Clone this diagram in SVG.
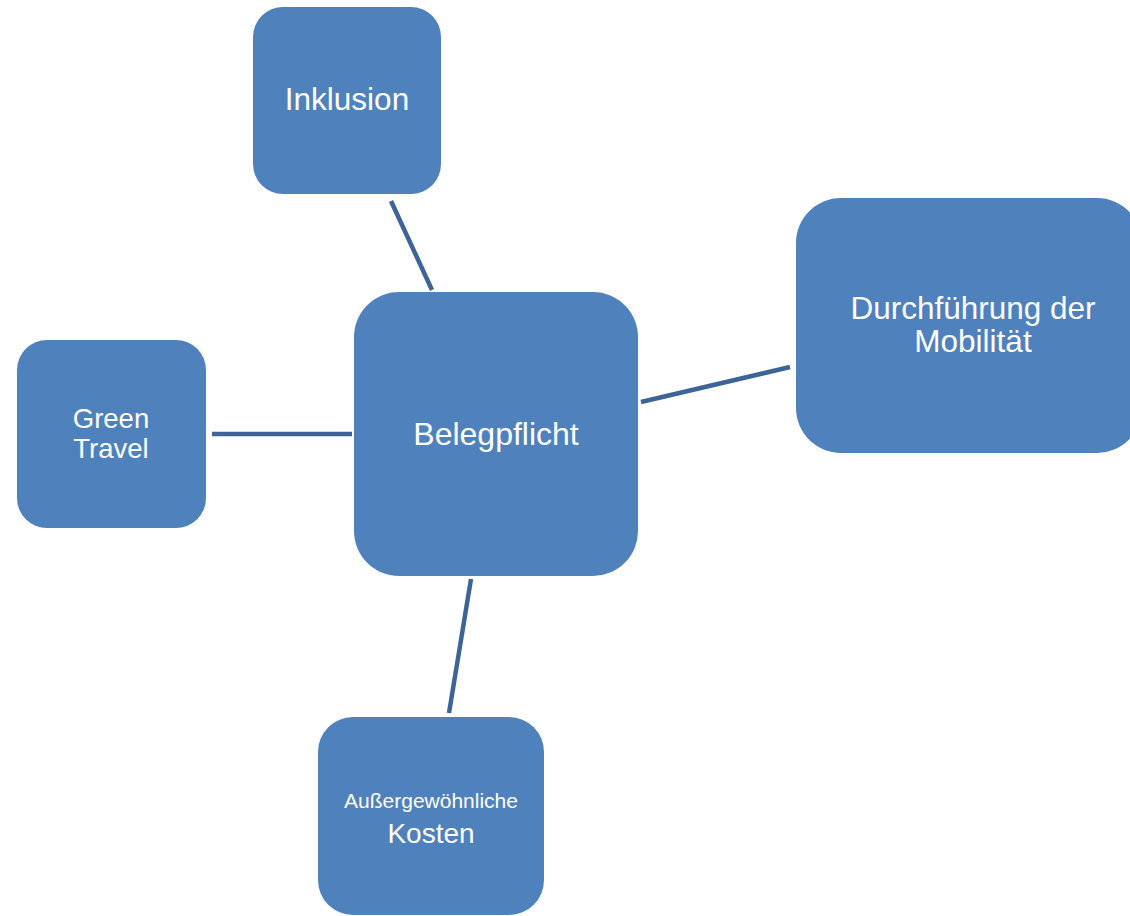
<svg xmlns="http://www.w3.org/2000/svg" width="1130" height="916" viewBox="0 0 1130 916">
<style>
.node{fill:#4f81bd;}
.t{fill:#ffffff;font-family:"Liberation Sans",Arial,sans-serif;text-anchor:middle;dominant-baseline:central;}
.c{stroke:#3c6497;stroke-width:4.5;fill:none;}
</style>
<rect width="1130" height="916" fill="#ffffff"/>
<g id="connectors">
<line class="c" x1="391" y1="201" x2="432" y2="290"/>
<line class="c" x1="641" y1="402" x2="790" y2="367"/>
<line class="c" x1="212" y1="434" x2="352" y2="434"/>
<line class="c" x1="471" y1="579" x2="449" y2="713"/>
</g>
<g id="inklusion">
<rect class="node" x="253" y="7" width="188" height="187" rx="30"/>
<text class="t" x="347" y="99" font-size="31.5">Inklusion</text>
</g>
<g id="durchfuehrung">
<rect class="node" x="796" y="198" width="346" height="255" rx="45"/>
<text class="t" x="973" y="308" font-size="31.5">Durchführung der</text>
<text class="t" x="973" y="341" font-size="31.5">Mobilität</text>
</g>
<g id="greentravel">
<rect class="node" x="17" y="340" width="189" height="188" rx="30"/>
<text class="t" x="111" y="418" font-size="27.5">Green</text>
<text class="t" x="111" y="448" font-size="27.5">Travel</text>
</g>
<g id="belegpflicht">
<rect class="node" x="354" y="292" width="284" height="284" rx="45"/>
<text class="t" x="496" y="434" font-size="32">Belegpflicht</text>
</g>
<g id="kosten">
<rect class="node" x="318" y="717" width="226" height="198" rx="35"/>
<text class="t" x="431" y="800" font-size="21">Außergewöhnliche</text>
<text class="t" x="431" y="833" font-size="28">Kosten</text>
</g>
</svg>
